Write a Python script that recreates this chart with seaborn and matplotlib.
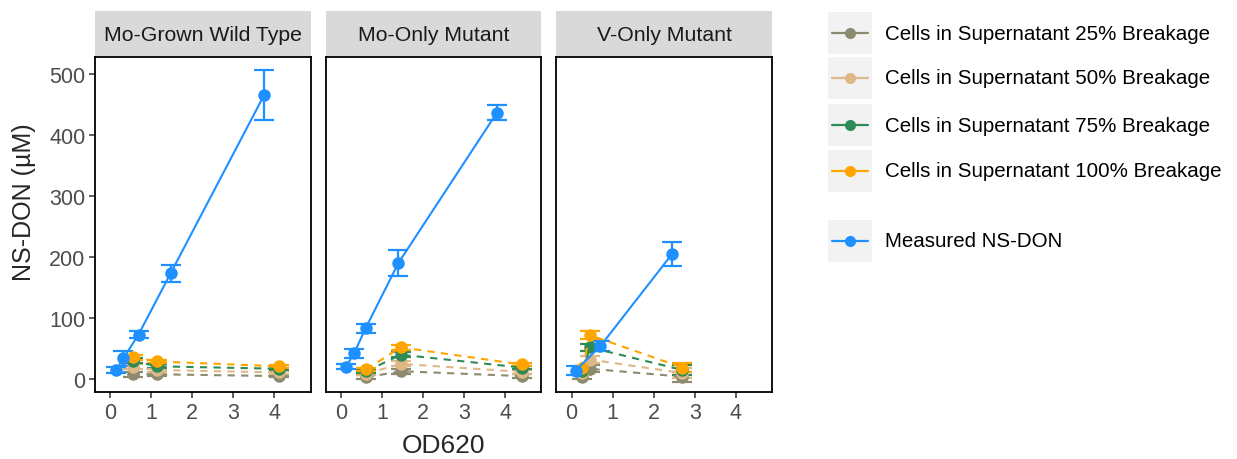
import seaborn as sns
import pandas as pd
import matplotlib.pyplot as plt
from matplotlib.patches import Rectangle
from matplotlib.lines import Line2D

# panels
panels = ["Mo-Grown Wild Type", "Mo-Only Mutant", "V-Only Mutant"]

# measured NS-DON per panel (OD620, uM, error)
meas_od = [[0.15, 0.32, 0.69, 1.47, 3.75],
           [0.12, 0.32, 0.60, 1.40, 3.80],
           [0.10, 0.70, 2.45]]
meas_don = [[15, 34, 73, 173, 465],
            [20, 42, 83, 190, 436],
            [14, 54, 205]]
meas_err = [[5, 12, 5, 14, 41],
            [4, 8, 8, 22, 12],
            [8, 8, 20]]

# cells in supernatant, by breakage
brk_od = [[0.55, 1.15, 4.10],
          [0.62, 1.46, 4.40],
          [0.26, 0.45, 2.70]]
brk_labels = ["Cells in Supernatant 25% Breakage", "Cells in Supernatant 50% Breakage",
              "Cells in Supernatant 75% Breakage", "Cells in Supernatant 100% Breakage"]
brk_25 = [[8, 8, 5], [3, 13, 5], [4, 17, 4]]
brk_50 = [[20, 15, 11], [9, 25, 12], [10, 32, 10]]
brk_75 = [[30, 21, 17], [13, 40, 19], [14, 52, 15]]
brk_100 = [[36, 29, 21], [16, 52, 24], [18, 72, 19]]
brk_err = [[4, 3, 2], [3, 4, 3], [4, 6, 8]]

meas_label = "Measured NS-DON"
palette = {brk_labels[0]: "#8C8B6F", brk_labels[1]: "#DEB887",
           brk_labels[2]: "#2E8B57", brk_labels[3]: "#FFA500",
           meas_label: "#1E90FF"}

rows = []
for p, name in enumerate(panels):
    for lab, vals in zip(brk_labels, [brk_25, brk_50, brk_75, brk_100]):
        for i in range(len(brk_od[p])):
            rows.append(dict(panel=name, series=lab, od=brk_od[p][i],
                             don=vals[p][i], err=brk_err[p][i]))
    for i in range(len(meas_od[p])):
        rows.append(dict(panel=name, series=meas_label, od=meas_od[p][i],
                         don=meas_don[p][i], err=meas_err[p][i]))
df = pd.DataFrame(rows)

sns.set_theme(style="white")
plt.rcParams['font.family'] = ['Liberation Sans', 'DejaVu Sans']

fig, axes = plt.subplots(1, 3, figsize=(12.37, 4.6), dpi=100, sharey=True)
fig.subplots_adjust(left=95/1237, right=772/1237, bottom=1-393/460, top=1-58/460, wspace=0.07)

dashes = {lab: (3.5, 3) for lab in brk_labels}
dashes[meas_label] = ""

for ax, name in zip(axes, panels):
    sub = df[df.panel == name]
    for lab in brk_labels + [meas_label]:
        s = sub[sub.series == lab]
        ax.errorbar(s.od, s.don, yerr=s.err, fmt="none", ecolor=palette[lab],
                    elinewidth=1.6, capsize=7, capthick=1.6, zorder=2)
    sns.lineplot(data=sub, x="od", y="don", hue="series", style="series",
                 palette=palette, dashes=dashes, markers={k: "o" for k in palette},
                 markersize=9, markeredgewidth=0, linewidth=1.5,
                 hue_order=brk_labels + [meas_label], ax=ax, legend=False, zorder=3)
    ax.set_xlim(-0.37, 4.88)
    ax.set_ylim(-21, 527)
    ax.set_xticks([0, 1, 2, 3, 4])
    ax.set_yticks([0, 100, 200, 300, 400, 500])
    ax.set_xlabel("")
    ax.set_ylabel("")
    for sp in ax.spines.values():
        sp.set_color("black")
        sp.set_linewidth(1.3)
    ax.tick_params(axis="both", labelsize=15.5, labelcolor="#4D4D4D", color="#333333",
                   length=4, width=1.1, direction="out", bottom=True, left=True, pad=3)
    ax.add_patch(Rectangle((0, 1.0), 1, 0.137, transform=ax.transAxes, clip_on=False,
                           facecolor="#D9D9D9", edgecolor="none"))
    ax.text(0.5, 1.068, name, transform=ax.transAxes, ha="center", va="center",
            fontsize=15.3, color="#1A1A1A")

for ax in axes[1:]:
    ax.tick_params(axis="y", left=False, labelleft=False)

axes[0].set_ylabel("NS-DON (\u00b5M)", fontsize=18)
axes[0].yaxis.set_label_coords(-0.275, 0.57)
fig.text(443/1237, 1-446/460, "OD620", fontsize=19, ha="center", va="center")

# legend drawn in pixel coordinates
lg = fig.add_axes([0, 0, 1, 1], zorder=-1)
lg.set_xlim(0, 1237)
lg.set_ylim(460, 0)
lg.axis("off")
keys = [(brk_labels[0], 34), (brk_labels[1], 79), (brk_labels[2], 126),
        (brk_labels[3], 172), (meas_label, 242)]
for lab, yc in keys:
    lg.add_patch(Rectangle((828, yc - 21), 44, 42, facecolor="#F2F2F2", edgecolor="none"))
    lg.add_line(Line2D([832, 868], [yc, yc], color=palette[lab], linewidth=1.6))
    lg.plot([850], [yc], "o", color=palette[lab], markersize=8, markeredgewidth=0)
    lg.text(885, yc, lab, fontsize=14.8, va="center", ha="left", color="black")

fig.savefig("out.png", dpi=100)
